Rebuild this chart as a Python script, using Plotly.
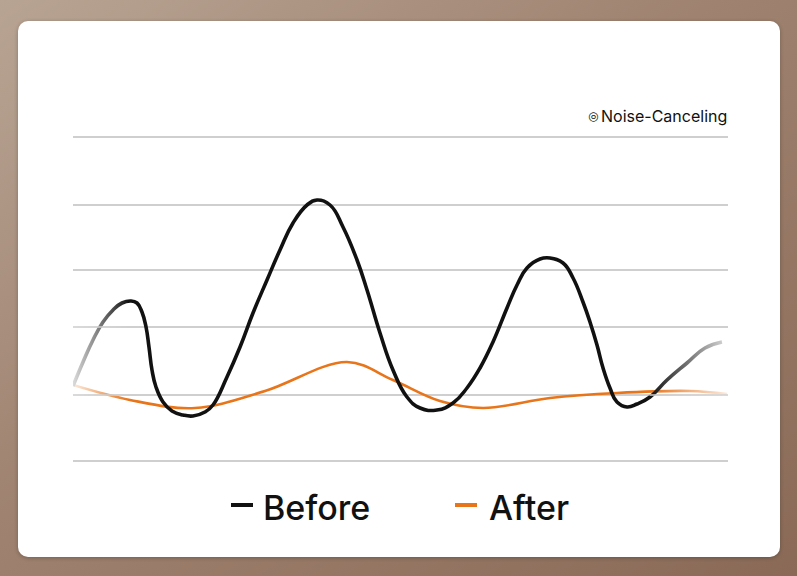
import base64
import plotly.graph_objects as go

# ---------------- data ----------------
before_t = [0, 1.53, 3.05, 4.58, 6.11, 7.48, 8.85, 9.77, 10.53, 11.15,
            11.60, 12.06, 12.67, 13.74, 15.11, 16.79, 18.32, 20.15, 21.37, 23.51,
            25.50, 27.48, 29.62, 31.60, 33.59, 35.73, 37.25, 39.24, 41.22, 43.36,
            44.89, 46.87, 48.85, 50.99, 52.98, 55.57, 58.02, 60.15, 62.14, 64.12,
            66.26, 67.79, 69.31, 71.30, 72.82, 74.81, 76.34, 77.86, 78.93, 80.00,
            80.92, 81.98, 83.05, 84.58, 86.11, 88.09, 90.69, 93.74, 96.49, 99.08]
before_v = [7.5, 9.9, 12.1, 13.9, 15.1, 15.8, 16.0, 15.8, 14.9, 13.4,
            11.4, 9.1, 7.4, 5.9, 5.0, 4.6, 4.5, 4.9, 5.6, 8.4,
            11.4, 14.8, 18.1, 21.1, 23.8, 25.6, 26.1, 25.6, 23.4, 20.1,
            17.1, 12.8, 9.1, 6.4, 5.3, 5.1, 5.8, 7.3, 9.3, 11.9,
            15.3, 17.6, 19.3, 20.2, 20.3, 19.8, 18.3, 15.9, 13.9, 11.6,
            9.3, 7.3, 5.9, 5.4, 5.7, 6.4, 8.1, 9.8, 11.3, 11.9]

after_t = [0, 8.70, 18.63, 29.31, 41.83, 48.85, 56.03, 62.60, 72.82, 83.05, 94.20, 99.85]
after_v = [7.6, 6.1, 5.3, 7.0, 9.9, 8.1, 6.0, 5.3, 6.3, 6.8, 7.0, 6.7]

grid_levels = [0, 6.6, 13.4, 19.1, 25.6, 32.4]
series_names = ["Before", "After"]
badge_text = "Noise-Canceling"

BLACK = "#111111"
ORANGE = "#E8751A"
FONT = "Inter, Roboto, 'Open Sans', sans-serif"

W, H = 797, 576
ML, MR, MT, MB = 73, 69, 127, 105
PW, PH = W - ML - MR, H - MT - MB


def px(x):
    return (x - ML) / PW


def py(y):
    return (H - MB - y) / PH


def svg_uri(svg):
    return "data:image/svg+xml;base64," + base64.b64encode(svg.encode()).decode()


bg_svg = f"""<svg xmlns='http://www.w3.org/2000/svg' width='{W}' height='{H}' viewBox='0 0 {W} {H}' preserveAspectRatio='none'>
<defs>
<linearGradient id='g' x1='0' y1='0' x2='1' y2='1'>
<stop offset='0' stop-color='#b8a493'/>
<stop offset='0.45' stop-color='#9f8270'/>
<stop offset='1' stop-color='#8a6a57'/>
</linearGradient>
<filter id='s' x='-5%' y='-5%' width='110%' height='110%'><feGaussianBlur stdDeviation='2'/></filter>
</defs>
<rect x='0' y='0' width='{W}' height='{H}' fill='url(#g)'/>
<rect x='18' y='22' width='762' height='536' rx='10' ry='10' fill='#000' opacity='0.25' filter='url(#s)'/>
<rect x='18' y='21' width='762' height='536' rx='10' ry='10' fill='#ffffff'/>
</svg>"""


def fade_svg(o0, o1):
    return f"""<svg xmlns='http://www.w3.org/2000/svg' width='100' height='100' viewBox='0 0 100 100' preserveAspectRatio='none'>
<defs><linearGradient id='f' x1='0' y1='0' x2='1' y2='0'>
<stop offset='0' stop-color='#ffffff' stop-opacity='{o0}'/>
<stop offset='1' stop-color='#ffffff' stop-opacity='{o1}'/>
</linearGradient></defs>
<rect x='0' y='0' width='100' height='100' fill='url(#f)'/>
</svg>"""


fig = go.Figure()
fig.add_trace(go.Scatter(x=after_t, y=after_v, mode="lines", name=series_names[1],
                         line=dict(color=ORANGE, width=2.6, shape="spline", smoothing=1.0,
                                   simplify=False),
                         hoverinfo="skip"))
fig.add_trace(go.Scatter(x=before_t, y=before_v, mode="lines", name=series_names[0],
                         line=dict(color=BLACK, width=3.6, shape="spline", smoothing=1.3,
                                   simplify=False),
                         hoverinfo="skip"))

images = [
    dict(source=svg_uri(bg_svg), xref="paper", yref="paper", x=px(0), y=py(0),
         sizex=W / PW, sizey=H / PH, sizing="stretch", xanchor="left", yanchor="top",
         layer="below"),
    dict(source=svg_uri(fade_svg(0.85, 0.0)), xref="x", yref="y", x=0, y=17.5,
         sizex=8.5, sizey=14.5, sizing="stretch", xanchor="left", yanchor="top",
         layer="above"),
    dict(source=svg_uri(fade_svg(0.0, 0.85)), xref="x", yref="y", x=88, y=13.0,
         sizex=12, sizey=9.5, sizing="stretch", xanchor="left", yanchor="top",
         layer="above"),
]

shapes = []
# grid segments redrawn above the fade overlays
for lv in grid_levels:
    if 3.0 < lv < 17.5:
        shapes.append(dict(type="line", xref="x", yref="y", x0=0, x1=8.5, y0=lv, y1=lv,
                           line=dict(color="#cfcfcf", width=1.6), layer="above"))
    if 3.5 < lv < 13.0:
        shapes.append(dict(type="line", xref="x", yref="y", x0=88, x1=100, y0=lv, y1=lv,
                           line=dict(color="#cfcfcf", width=1.6), layer="above"))

# legend dashes
for (x0, x1, col) in [(231, 253, BLACK), (455, 477, ORANGE)]:
    shapes.append(dict(type="line", xref="paper", yref="paper", x0=px(x0), x1=px(x1),
                       y0=py(505), y1=py(505), line=dict(color=col, width=4)))

annotations = [
    dict(text=badge_text, xref="paper", yref="paper", x=px(729), y=py(116),
         xanchor="right", yanchor="middle", showarrow=False,
         font=dict(family=FONT, size=16, color=BLACK)),
    dict(text="◎", xref="paper", yref="paper", x=px(593), y=py(115.5),
         xanchor="center", yanchor="middle", showarrow=False,
         font=dict(family="DejaVu Sans", size=12, color=BLACK)),
    dict(text=series_names[0], xref="paper", yref="paper", x=px(261), y=py(507),
         xanchor="left", yanchor="middle", showarrow=False,
         font=dict(family=FONT, size=34, color=BLACK, weight=500)),
    dict(text=series_names[1], xref="paper", yref="paper", x=px(487), y=py(507),
         xanchor="left", yanchor="middle", showarrow=False,
         font=dict(family=FONT, size=34, color=BLACK, weight=500)),
]

fig.update_layout(
    width=W, height=H,
    margin=dict(l=ML, r=MR, t=MT, b=MB),
    paper_bgcolor="#9c7f6c",
    plot_bgcolor="rgba(0,0,0,0)",
    showlegend=False,
    images=images,
    shapes=shapes,
    annotations=annotations,
    xaxis=dict(range=[0, 100], showgrid=False, zeroline=False, showticklabels=False,
               showline=False, ticks="", fixedrange=True),
    yaxis=dict(range=[-1, 33.4], tickvals=grid_levels, showgrid=True, gridcolor="#cfcfcf",
               gridwidth=1.6, zeroline=False, showticklabels=False, showline=False,
               ticks="", fixedrange=True),
)

fig.write_html(
    "out.html",
    config={"displayModeBar": False},
    post_script="document.body.style.margin='0';document.body.style.overflow='hidden';",
)
